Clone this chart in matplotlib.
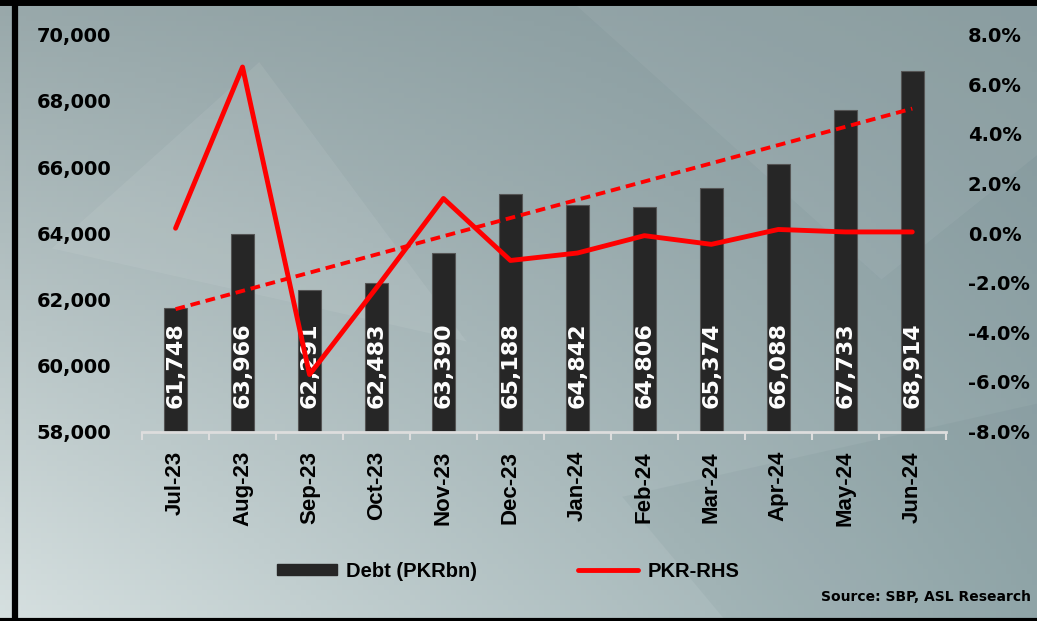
import matplotlib.pyplot as plt
from matplotlib.patches import Patch, Polygon
from matplotlib.lines import Line2D
import numpy as np

months = ['Jul-23', 'Aug-23', 'Sep-23', 'Oct-23', 'Nov-23', 'Dec-23',
          'Jan-24', 'Feb-24', 'Mar-24', 'Apr-24', 'May-24', 'Jun-24']
debt = [61748, 63966, 62291, 62483, 63390, 65188,
        64842, 64806, 65374, 66088, 67733, 68914]
pkr = [0.2, 6.7, -5.7, -2.2, 1.4, -1.1, -0.8, -0.1, -0.45, 0.15, 0.05, 0.05]

x = np.arange(len(months))

fig = plt.figure(figsize=(10.37, 6.21), dpi=100)

# background gradient + a few soft shapes
bg = fig.add_axes([0, 0, 1, 1], zorder=-10)
bg.set_axis_off()
tl = np.array([152, 168, 170]) / 255
tr = np.array([132, 152, 156]) / 255
bl = np.array([214, 224, 224]) / 255
br = np.array([150, 170, 173]) / 255
u = np.linspace(0, 1, 200)[None, :, None]
v = np.linspace(0, 1, 120)[:, None, None]
img = (1 - v) * ((1 - u) * tl + u * tr) + v * ((1 - u) * bl + u * br)
bg.imshow(img, extent=[0, 1, 0, 1], aspect='auto', origin='upper')
bg.add_patch(Polygon([[0.55, 1], [0.85, 0.55], [1, 0.75], [1, 1]], closed=True,
                     color='white', alpha=0.05, lw=0))
bg.add_patch(Polygon([[0.6, 0.2], [1, 0.35], [1, 0], [0.7, 0]], closed=True,
                     color='#4d6a70', alpha=0.07, lw=0))
bg.add_patch(Polygon([[0.05, 0.6], [0.45, 0.45], [0.25, 0.9]], closed=True,
                     color='white', alpha=0.07, lw=0))
bg.set_xlim(0, 1)
bg.set_ylim(0, 1)
# black frame lines
bg.plot([0.0145, 0.0145], [0, 1], color='black', lw=4.5)
bg.plot([0, 1], [0.996, 0.996], color='black', lw=5)
bg.plot([0, 1], [0.002, 0.002], color='black', lw=3)

ax = fig.add_axes([0.137, 0.305, 0.775, 0.639])
ax.patch.set_alpha(0)
ax.bar(x, debt, width=0.34, color='#262626', edgecolor='#555555', lw=0.8, zorder=2)
trend = np.polyval(np.polyfit(x, debt, 1), x)
for xi, d in zip(x, debt):
    ax.text(xi, 58700, f'{d:,}', rotation=90, ha='center', va='bottom',
            color='white', fontsize=16, fontweight='bold', zorder=3)

ax.set_ylim(58000, 70000)
ax.set_xlim(-0.5, len(months) - 0.5)
ax.set_yticks(range(58000, 70001, 2000))
ax.set_yticklabels([f'{t:,}' for t in range(58000, 70001, 2000)],
                   fontsize=14, fontweight='bold')
ax.set_xticks(x)
ax.set_xticklabels(months, rotation=90, fontsize=16, fontweight='bold',
                   family='Liberation Sans')
ax.set_xticks(np.arange(-0.5, len(months)), minor=True)
ax.tick_params(axis='x', which='major', length=0, pad=14)
ax.tick_params(axis='x', which='minor', length=6, color='#dddddd', width=1.5)
ax.tick_params(axis='y', length=0, pad=22)
for s in ['top', 'right', 'left']:
    ax.spines[s].set_visible(False)
ax.spines['bottom'].set_color('#dddddd')
ax.spines['bottom'].set_linewidth(2)

ax2 = ax.twinx()
ax2.plot(x, trend, color='red', lw=2.8, ls=(0, (2.5, 1.5)), transform=ax.transData,
         zorder=4)
ax2.plot(x, pkr, color='red', lw=3.5, solid_joinstyle='round',
         solid_capstyle='round', zorder=5)
ax2.set_ylim(-8, 8)
ax2.set_yticks(np.arange(-8, 8.1, 2))
ax2.set_yticklabels([f'{t:.1f}%' for t in np.arange(-8, 8.1, 2)],
                    fontsize=14, fontweight='bold')
ax2.tick_params(axis='y', length=0, pad=16)
for s in ['top', 'right', 'left', 'bottom']:
    ax2.spines[s].set_visible(False)

handles = [Patch(color='#262626'), Line2D([], [], color='red', lw=3.5,
                                          solid_capstyle='round')]
fig.legend(handles, ['Debt (PKRbn)', 'PKR-RHS'], loc='center',
           bbox_to_anchor=(0.49, 0.08), ncol=2, frameon=False,
           prop={'size': 14.5, 'weight': 'bold', 'family': 'Liberation Sans'},
           handlelength=3.0, handleheight=0.5,
           columnspacing=5.0, handletextpad=0.45)

fig.text(0.994, 0.028, 'Source: SBP, ASL Research', ha='right', va='bottom',
         fontsize=10, fontweight='bold')

fig.savefig('out.png', dpi=100)
